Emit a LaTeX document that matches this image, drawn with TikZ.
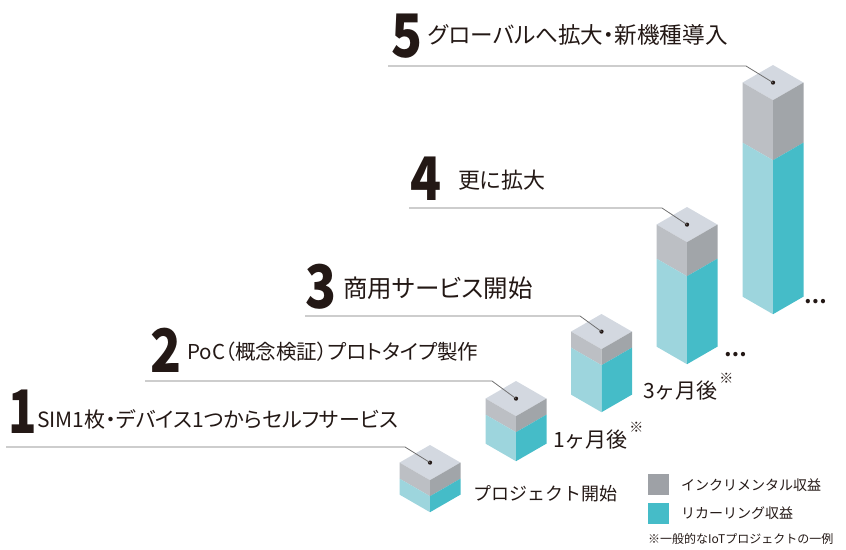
\documentclass[tikz,border=0pt]{standalone}
\usepackage{fontspec}
\setmainfont{Noto Sans CJK JP}
\newfontfamily\jp{Noto Sans CJK JP}
\newfontfamily\jpp[RawFeature={+palt}]{Noto Sans CJK JP}
\definecolor{ink}{HTML}{231815}
\definecolor{leadgray}{HTML}{707070}
\definecolor{topc}{HTML}{D3D8E0}
\definecolor{grayL}{HTML}{BCBFC4}
\definecolor{grayR}{HTML}{A1A5A9}
\definecolor{tealL}{HTML}{9DD5DD}
\definecolor{tealR}{HTML}{45BCC8}
\definecolor{leggray}{HTML}{9EA1A6}
\def\bw{30.5}
\def\bh{17.6}
\newcommand\isobar[5]{%
 \begin{scope}[shift={(#1,#2)}]
  \fill[topc] (0,0) -- (-\bw,\bh) -- (0,2*\bh) -- (\bw,\bh) -- cycle;
  \fill[grayL] (-\bw,\bh) -- (0,2*\bh) -- (0,{2*\bh+#3}) -- (-\bw,{\bh+#3}) -- cycle;
  \fill[grayR] (\bw,\bh) -- (0,2*\bh) -- (0,{2*\bh+#3}) -- (\bw,{\bh+#3}) -- cycle;
  \fill[tealL] (-\bw,{\bh+#3}) -- (0,{2*\bh+#3}) -- (0,{2*\bh+#3+#4}) -- (-\bw,{\bh+#3+#4}) -- cycle;
  \fill[tealR] (\bw,{\bh+#3}) -- (0,{2*\bh+#3}) -- (0,{2*\bh+#3+#4}) -- (\bw,{\bh+#3+#4}) -- cycle;
  \coordinate (#5) at (0,\bh);
 \end{scope}}
\tikzset{
 head/.style={anchor=west, inner sep=0pt, font=\jpp\fontsize{22}{22}\selectfont, text=ink},
 num/.style={anchor=base west, inner sep=0pt, font=\jp\fontsize{60}{60}\selectfont\bfseries, text=ink},
 lead/.style={draw=leadgray, line width=0.8pt},
 dotc/.style={circle, fill=ink, inner sep=0pt, minimum size=4.2pt},
 lab/.style={anchor=west, inner sep=0pt, font=\jp\fontsize{18}{18}\selectfont, text=ink},
 mon/.style={anchor=west, inner sep=0pt, font=\jp\fontsize{21}{21}\selectfont, text=ink},
 note/.style={anchor=west, inner sep=0pt, font=\jp\fontsize{12}{12}\selectfont, text=ink},
 star/.style={anchor=west, inner sep=0pt, font=\jp\fontsize{14}{14}\selectfont, text=ink},
 leg/.style={anchor=west, inner sep=0pt, font=\jp\fontsize{14}{14}\selectfont, text=ink},
 more/.style={inner sep=0pt, font=\jp\fontsize{20}{20}\selectfont\bfseries, text=ink},
}
\begin{document}
\begin{tikzpicture}[x=1pt,y=-1pt]
\useasboundingbox (0,0) rectangle (846,549);
% bars
\isobar{430}{445}{16}{16}{c1}
\isobar{516}{381}{16}{29}{c2}
\isobar{601.5}{314}{16}{47}{c3}
\isobar{687}{207}{34}{88}{c4}
\isobar{773}{65}{60}{154}{c5}
% dots at top faces
\foreach \i in {1,...,5}{\node[dotc] (p\i) at (c\i) {};}
% leader lines
\coordinate (s1) at (6,447);   \coordinate (b1) at (405,447);
\coordinate (s2) at (145,381); \coordinate (b2) at (492,381);
\coordinate (s3) at (305,316); \coordinate (b3) at (580,316);
\coordinate (s4) at (409,208); \coordinate (b4) at (662,208);
\coordinate (s5) at (388,66);  \coordinate (b5) at (746,66);
\foreach \i in {1,...,5}{\draw[lead] (s\i) -- (b\i) -- (p\i.center);}
% headings
\node[num] (n1) at (8,433) {\scalebox{0.78}[1]{1}};
\node[head, font=\jpp\fontsize{21}{21}\selectfont] (h1) at (37,419) {SIM1枚・デバイス1つからセルフサービス};
\node[num] (n2) at (150,372) {\scalebox{0.85}[1]{2}};
\node[head, font=\jpp\fontsize{20.5}{20.5}\selectfont] (h2) at (187,352) {PoC（概念検証）プロトタイプ製作};
\node[num] (n3) at (305,308) {\scalebox{0.85}[1]{3}};
\node[head, font=\jpp\fontsize{24.5}{24.5}\selectfont] (h3) at (343,288) {商用サービス開始};
\node[num] (n4) at (410,200) {\scalebox{0.85}[1]{4}};
\node[head] (h4) at (458,180) {更に拡大};
\node[num] (n5) at (391,57) {\scalebox{0.85}[1]{5}};
\node[head, font=\jpp\fontsize{22.6}{22.6}\selectfont] (h5) at (428,35) {グローバルへ拡大・新機種導入};
% time labels
\node[lab] (t0) at (473,494) {プロジェクト開始};
\node[mon] (t1) at (553,440) {1ヶ月後};
\node[star] (a1) at ([xshift=1pt,yshift=13pt]t1.east) {※};
\node[mon] (t3) at (643,391) {3ヶ月後};
\node[star] (a3) at ([xshift=1pt,yshift=13pt]t3.east) {※};
% continuation marks
\node[more] (m4) at (736,355) {…};
\node[more] (m5) at (816,302) {…};
% legend
\fill[leggray] (648,474) rectangle (669,495);
\fill[tealR] (648,503) rectangle (669,524);
\node[leg] (l1) at (681,485) {インクリメンタル収益};
\node[leg] (l2) at (681,513) {リカーリング収益};
\node[note] (nt) at (648,539) {※一般的なIoTプロジェクトの一例};
\end{tikzpicture}
\end{document}
